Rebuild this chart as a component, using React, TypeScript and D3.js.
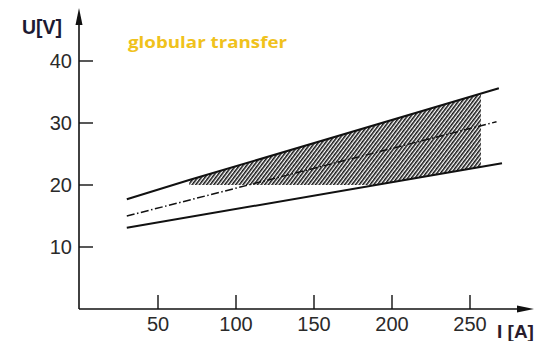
import React from "react";
import * as d3 from "d3";

const upperLine: [number, number][] = [[30, 17.7], [70, 20.8], [268.5, 35.6]];
const middleLine: [number, number][] = [[30, 15.0], [267, 30.2]];
const lowerLine: [number, number][] = [[30, 13.1], [270.5, 23.5]];
const hatchRange = [70, 257];
const hatchFloor = 20;
const xTicks = [50, 100, 150, 200, 250];
const yTicks = [10, 20, 30, 40];

const W = 541;
const H = 341;

export default function App() {
  const x = d3.scaleLinear().domain([0, 250]).range([80, 470]);
  const y = d3.scaleLinear().domain([0, 40]).range([309, 61]);
  const line = d3.line<[number, number]>().x((d) => x(d[0])).y((d) => y(d[1]));

  const interp = (pts: [number, number][], I: number) => {
    for (let i = 0; i < pts.length - 1; i++) {
      const [a, ua] = pts[i];
      const [b, ub] = pts[i + 1];
      if (I >= a && I <= b) return ua + ((I - a) / (b - a)) * (ub - ua);
    }
    return pts[pts.length - 1][1];
  };
  const areaXs = [30, 70, 268];
  const area = d3
    .area<number>()
    .x((I) => x(I))
    .y0((I) => y(interp(lowerLine, I)))
    .y1((I) => y(interp(upperLine, I)));

  const axisX0 = 79;
  const axisY0 = 309;

  return (
    <svg width={W} height={H} style={{ position: "absolute", left: 0, top: 0, background: "#fff" }}>
      <defs>
        <pattern id="hatch" width="2.9" height="10" patternUnits="userSpaceOnUse" patternTransform="rotate(37)">
          <rect x="0" y="0" width="1.55" height="10" fill="#151515" />
        </pattern>
        <clipPath id="hclip">
          <rect
            x={x(hatchRange[0])}
            y={0}
            width={x(hatchRange[1]) - x(hatchRange[0])}
            height={y(hatchFloor)}
          />
        </clipPath>
      </defs>
      <rect width={W} height={H} fill="#fff" />

      {/* hatched region */}
      <path d={area(areaXs) || ""} fill="url(#hatch)" clipPath="url(#hclip)" />

      {/* axes */}
      <line x1={axisX0} y1={axisY0} x2={axisX0} y2={22} stroke="#111" strokeWidth={1.6} />
      <path d={`M${axisX0},8 L${axisX0 - 3.5},25 L${axisX0 + 3.5},25 Z`} fill="#111" />
      <line x1={axisX0} y1={axisY0} x2={520} y2={axisY0} stroke="#111" strokeWidth={1.6} />
      <path d={`M534,${axisY0} L517,${axisY0 - 3.5} L517,${axisY0 + 3.5} Z`} fill="#111" />

      {yTicks.map((t) => (
        <g key={"y" + t}>
          <line x1={axisX0} x2={axisX0 + 14} y1={y(t)} y2={y(t)} stroke="#111" strokeWidth={1.4} />
          <text
            x={72}
            y={y(t) + 7}
            textAnchor="end"
            fontFamily="Liberation Sans, Arial, sans-serif"
            fontSize={20}
            fill="#2a2a2a"
          >
            {t}
          </text>
        </g>
      ))}
      {xTicks.map((t) => (
        <g key={"x" + t}>
          <line x1={x(t)} x2={x(t)} y1={axisY0} y2={axisY0 - 14} stroke="#111" strokeWidth={1.4} />
          <text
            x={x(t)}
            y={331}
            textAnchor="middle"
            fontFamily="Liberation Sans, Arial, sans-serif"
            fontSize={20}
            fill="#2a2a2a"
          >
            {t}
          </text>
        </g>
      ))}

      {/* curves */}
      <path d={line(upperLine) || ""} fill="none" stroke="#111" strokeWidth={2} />
      <path d={line(lowerLine) || ""} fill="none" stroke="#111" strokeWidth={2} />
      <path
        d={line(middleLine) || ""}
        fill="none"
        stroke="#111"
        strokeWidth={1.5}
        strokeDasharray="8,2.5,1.5,2.5"
      />

      {/* labels */}
      <text x={22} y={34} fontFamily="Liberation Sans, Arial, sans-serif" fontWeight="bold" fontSize={20} fill="#1c1a33" textLength={40} lengthAdjust="spacingAndGlyphs">
        U[V]
      </text>
      <text x={497} y={338} fontFamily="Liberation Sans, Arial, sans-serif" fontWeight="bold" fontSize={19} fill="#2a1c2c">
        I [A]
      </text>
      <text
        x={128}
        y={48}
        fontFamily="Open Sans, Lato, sans-serif"
        fontWeight="bold"
        fontSize={16.5}
        fill="#f0c21c"
        textLength={159}
        lengthAdjust="spacingAndGlyphs"
      >
        globular transfer
      </text>
    </svg>
  );
}
